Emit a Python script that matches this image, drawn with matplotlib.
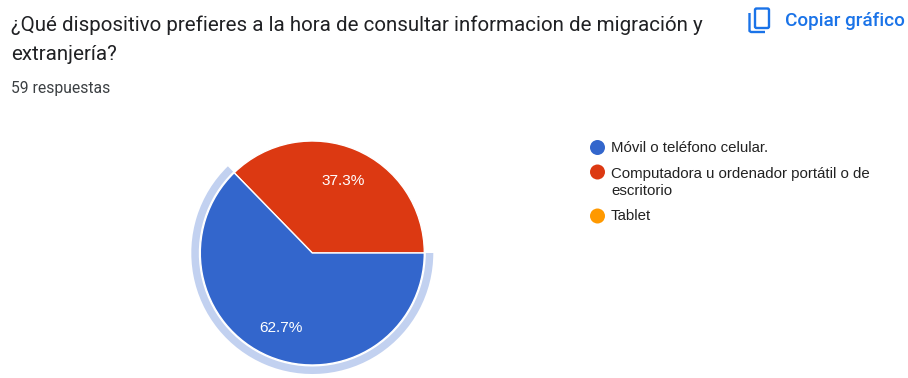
import matplotlib
matplotlib.use("Agg")
import matplotlib.pyplot as plt
from matplotlib.patches import Wedge, Circle, FancyBboxPatch

# Data
title_lines = ["¿Qué dispositivo prefieres a la hora de consultar informacion de migración y", "extranjería?"]
subtitle = "59 respuestas"
copy_label = "Copiar gráfico"
categories = ["Móvil o teléfono celular.", "Computadora u ordenador portátil o de\nescritorio", "Tablet"]
counts = [37, 22, 0]
colors = ["#3366cc", "#dc3912", "#ff9900"]

W, H = 908, 378
fig = plt.figure(figsize=(W / 100, H / 100), dpi=100)
ax = fig.add_axes([0, 0, 1, 1])

def yy(py):
    return H - py

# pie, red slice first going counter clockwise from the east
cx, cy, r = 312.3, yy(253), 112
wedges, _, pct = ax.pie(
    [counts[1], counts[0]],
    colors=[colors[1], colors[0]],
    center=(cx, cy),
    radius=r,
    startangle=0,
    counterclock=True,
    frame=True,
    autopct=lambda p: f"{p:.1f}%",
    pctdistance=0.715,
    wedgeprops={"edgecolor": "white", "linewidth": 1.0},
    textprops={"color": "white", "fontsize": 11.1, "family": "Liberation Sans"},
)

# labels sit a little lower in the reference
for t in pct:
    px, py = t.get_position()
    t.set_position((px, py - 1.5))

# selection ring around the blue slice
ring_start = wedges[1].theta1
ax.add_patch(Wedge((cx, cy), 121, ring_start, 360, width=7.5, facecolor="#c2d1f0", edgecolor="none"))

ax.set_xlim(0, W)
ax.set_ylim(0, H)
ax.set_aspect("equal")
ax.axis("off")

# title block
dark = "#202124"
ax.text(11, yy(25), title_lines[0], family="Roboto", fontsize=14.8, color=dark, va="center", ha="left")
ax.text(11, yy(55), title_lines[1], family="Roboto", fontsize=14.8, color=dark, va="center", ha="left")
ax.text(11, yy(88), subtitle, family="Roboto", fontsize=11.3, color="#3c4043", va="center", ha="left")

# copy button
blue = "#1a73e8"
ax.add_patch(FancyBboxPatch((755, yy(28)), 14, 19.5, boxstyle="round,pad=0,rounding_size=1.5",
                            facecolor="none", edgecolor=blue, linewidth=1.7))
ax.plot([749.5, 749.5, 751, 765], [yy(13), yy(31), yy(32), yy(32)], color=blue, lw=1.7, solid_capstyle="butt")
ax.text(785, yy(20.5), copy_label, family="Roboto", fontsize=13.6, color=blue, va="center", ha="left", weight="medium")

# legend
legend_y = [147.5, 172, 216]
text_y = [148, 182.5, 216.5]
for name, col, ly, ty in zip(categories, colors, legend_y, text_y):
    ax.add_patch(Circle((597.5, yy(ly)), 7.5, facecolor=col, edgecolor="none"))
    ax.text(611, yy(ty), name, family="Liberation Sans", fontsize=10.8, color="#222222",
            va="center", ha="left", linespacing=1.36)

fig.savefig("out.png", dpi=100)
